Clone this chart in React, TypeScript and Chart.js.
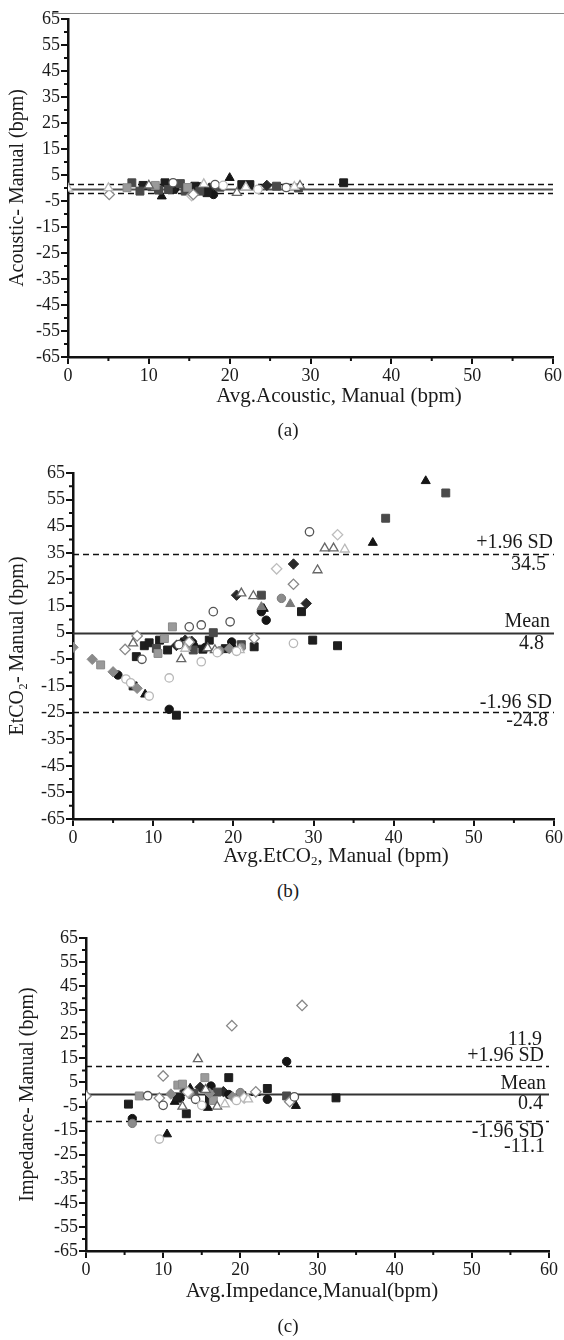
import React, { useEffect, useRef } from 'react';
import { Chart, registerables } from 'chart.js';
Chart.register(...registerables);

type Pt = [number, number];

// ---------- Panel (a): Acoustic - Manual ----------
const aBlackSquare: Pt[] = [[9.3, 1.0], [12.0, 2.0], [15.7, 0.7], [17.2, -1.8], [21.5, 1.3], [22.5, 1.3], [34.1, 2.0], [13.0, -0.5], [16.5, 0.5]];
const aDarkSquare: Pt[] = [[7.9, 2.0], [8.9, -1.2], [10.4, 0.5], [12.4, -0.6], [13.9, 1.7], [14.5, -1.2], [16.3, -1.2], [25.8, 0.7], [11.2, -0.8], [18.8, 0.3], [28.5, 0.0]];
const aGraySquare: Pt[] = [[7.3, 0.1], [10.8, 1.0], [14.8, 0.2]];
const aBlackCircle: Pt[] = [[18.0, -2.5], [13.2, -0.3]];
const aOpenCircle: Pt[] = [[13.0, 2.0], [27.0, 0.2], [18.2, 1.3]];
const aLightCircle: Pt[] = [[19.2, 1.0], [23.5, -0.5]];
const aBlackTriangle: Pt[] = [[11.6, -3.2], [20.0, 3.9], [12.5, 0.3]];
const aOpenTriangle: Pt[] = [[20.9, -1.8], [28.7, 0.9], [10.0, 1.0]];
const aLightTriangle: Pt[] = [[0.0, -0.2], [5.0, 0.0], [16.8, 1.5], [22.0, 0.3], [28.0, 0.5]];
const aBlackDiamond: Pt[] = [[24.6, 1.0], [17.5, 0.0]];
const aOpenDiamond: Pt[] = [[5.1, -2.5], [15.5, -2.5]];
const aLightDiamond: Pt[] = [[15.3, -2.9]];
const aLimitValues = [1.7, -0.2, -2.1]; // upper, mean, lower

// ---------- Panel (b): EtCO2 - Manual ----------
const bBlackSquare: Pt[] = [[7.5, -15], [7.9, -4], [8.9, 0.1], [9.5, 1.2], [10.8, 2.2], [12.9, -26.0], [17.0, 2.2], [22.6, -0.3], [28.5, 12.9], [29.9, 2.2], [33.0, 0.1], [16.2, -1.2], [11.8, -1.5], [19.0, -1.0]];
const bDarkSquare: Pt[] = [[10.4, -0.9], [17.5, 5.0], [23.5, 19.1], [39.0, 48.0], [46.5, 57.5], [15.0, -1.5], [21.0, 0.5]];
const bGraySquare: Pt[] = [[3.45, -7.1], [10.6, -2.8], [11.4, 2.8], [12.4, 7.2], [14.2, 0.2]];
const bBlackCircle: Pt[] = [[5.6, -10.9], [12.0, -23.8], [23.5, 12.9], [24.1, 9.7], [14.0, 0.5], [16.5, -0.5], [19.8, 1.5]];
const bGrayCircle: Pt[] = [[26.0, 17.9], [21.0, -0.5], [18.3, -1.8]];
const bOpenCircle: Pt[] = [[8.6, -5.0], [14.5, 7.2], [16.0, 7.9], [17.5, 12.9], [19.6, 9.1], [29.5, 42.9], [13.2, 0.5]];
const bLightCircle: Pt[] = [[6.6, -12.4], [7.2, -13.8], [9.5, -18.8], [12.0, -12.0], [16.0, -5.9], [27.5, 1.0], [18.0, -2.5], [20.4, -2.0]];
const bBlackTriangle: Pt[] = [[9.0, -18.2], [20.0, -0.3], [37.4, 38.8], [44.0, 62.0], [13.5, 1.2], [15.2, 0.5], [23.8, 14.0]];
const bGrayTriangle: Pt[] = [[27.1, 15.8], [23.5, 14.7]];
const bOpenTriangle: Pt[] = [[7.5, 1.0], [13.5, -4.9], [21.0, 19.8], [22.5, 18.8], [30.5, 28.5], [31.4, 36.7], [32.5, 36.7], [16.8, -0.8], [17.7, -1.5]];
const bLightTriangle: Pt[] = [[33.9, 36.3], [20.8, -1.5], [14.0, -1.0]];
const bBlackDiamond: Pt[] = [[20.4, 19.1], [27.5, 30.8], [29.1, 16.0], [14.8, 1.8], [12.9, 0.2], [14.0, 2.2]];
const bGrayDiamond: Pt[] = [[0.0, -0.5], [2.4, -5.0], [5.0, -9.7], [8.0, -15.9], [19.5, -1.0]];
const bOpenDiamond: Pt[] = [[6.5, -1.3], [8.0, 3.8], [27.5, 23.2], [22.6, 2.9], [14.5, 1.5]];
const bLightDiamond: Pt[] = [[25.4, 29.0], [33.0, 41.8]];
const bLimitValues = [34.5, 4.8, -24.8];
const bLimitTexts = ['+1.96 SD', '34.5', 'Mean', '4.8', '-1.96 SD', '-24.8'];

// ---------- Panel (c): Impedance - Manual ----------
const cBlackSquare: Pt[] = [[5.5, -4.0], [13.0, -8.0], [18.5, 7.0], [23.5, 2.5], [32.4, -1.4], [11.8, -1.0], [16.0, -2.0], [20.2, -0.5]];
const cDarkSquare: Pt[] = [[26.0, -0.6], [14.0, 0.5], [17.0, 1.0]];
const cGraySquare: Pt[] = [[6.9, -0.6], [11.9, 3.9], [15.4, 7.0], [12.5, 4.3], [16.5, -2.5]];
const cBlackCircle: Pt[] = [[6.0, -10.0], [16.2, 3.5], [23.5, -2.0], [26.0, 13.7], [12.2, -1.5], [18.5, 0.0]];
const cGrayCircle: Pt[] = [[6.0, -12.0], [13.5, 0.0], [20.0, 0.8]];
const cOpenCircle: Pt[] = [[8.0, -0.5], [27.0, -1.0], [10.0, -4.5], [14.2, -2.0]];
const cLightCircle: Pt[] = [[9.5, -18.5], [15.0, -4.5], [19.5, -2.5]];
const cBlackTriangle: Pt[] = [[10.5, -16.5], [27.2, -4.7], [13.5, 2.5], [15.8, -5.5], [22.0, 0.7], [11.5, -3.0]];
const cOpenTriangle: Pt[] = [[14.5, 14.7], [12.5, -5.0], [17.0, -5.0], [15.5, 2.0]];
const cLightTriangle: Pt[] = [[18.0, -4.0], [21.0, -2.0]];
const cBlackDiamond: Pt[] = [[14.8, 3.0], [17.8, 1.2], [12.8, 1.5]];
const cGrayDiamond: Pt[] = [[11.0, 0.2], [16.0, 0.5], [19.0, -1.0]];
const cOpenDiamond: Pt[] = [[0.0, -0.6], [10.0, 7.7], [18.9, 28.6], [22.0, 1.1], [28.0, 37.0], [26.4, -3.0], [9.5, -1.5]];
const cLightDiamond: Pt[] = [[13.2, 1.0], [20.5, -1.5]];
const cLimitValues = [11.9, 0.4, -11.1];
const cLimitTexts = ['11.9', '+1.96 SD', 'Mean', '0.4', '-1.96 SD', '-11.1'];

// ---------- Axes ----------
const yMin = -65;
const yMax = 65;
const xMin = 0;
const xMax = 60;
const majorStep = 10;

const titles = {
  aY: 'Acoustic- Manual (bpm)',
  bY: 'EtCO\u2082- Manual (bpm)',
  cY: 'Impedance- Manual (bpm)',
};

// ---------- Marker styles ----------
const STYLE: Record<string, { ps: string; r: number; fill: string; stroke: string; bw: number }> = {
  blackSquare: { ps: 'rect', r: 5.6, fill: '#1e1e1e', stroke: '#1e1e1e', bw: 1 },
  darkSquare: { ps: 'rect', r: 5.6, fill: '#4a4a4a', stroke: '#4a4a4a', bw: 1 },
  graySquare: { ps: 'rect', r: 5.6, fill: '#9a9a9a', stroke: '#8a8a8a', bw: 1 },
  blackCircle: { ps: 'circle', r: 4.2, fill: '#151515', stroke: '#151515', bw: 1 },
  grayCircle: { ps: 'circle', r: 4.2, fill: '#8c8c8c', stroke: '#777', bw: 1 },
  openCircle: { ps: 'circle', r: 4.2, fill: '#ffffff', stroke: '#555', bw: 1.3 },
  lightCircle: { ps: 'circle', r: 4.2, fill: '#ffffff', stroke: '#b8b8b8', bw: 1.3 },
  blackTriangle: { ps: 'triangle', r: 5.2, fill: '#151515', stroke: '#151515', bw: 1 },
  grayTriangle: { ps: 'triangle', r: 5.2, fill: '#7a7a7a', stroke: '#7a7a7a', bw: 1 },
  openTriangle: { ps: 'triangle', r: 5.2, fill: '#ffffff', stroke: '#666', bw: 1.3 },
  lightTriangle: { ps: 'triangle', r: 5.2, fill: '#ffffff', stroke: '#b8b8b8', bw: 1.3 },
  blackDiamond: { ps: 'rectRot', r: 5.2, fill: '#2a2a2a', stroke: '#2a2a2a', bw: 1 },
  grayDiamond: { ps: 'rectRot', r: 5.2, fill: '#8a8a8a', stroke: '#8a8a8a', bw: 1 },
  openDiamond: { ps: 'rectRot', r: 5.2, fill: '#ffffff', stroke: '#888', bw: 1.3 },
  lightDiamond: { ps: 'rectRot', r: 5.2, fill: '#ffffff', stroke: '#bdbdbd', bw: 1.3 },
};

const SERIF = "'Liberation Serif', 'Times New Roman', serif";

function makeDatasets(list: [string, Pt[]][]) {
  return list.map(([key, pts]) => {
    const s = STYLE[key];
    return {
      label: key,
      data: pts.map(([x, y]) => ({ x, y })),
      pointStyle: s.ps,
      pointRadius: s.r,
      pointHoverRadius: s.r,
      backgroundColor: s.fill,
      borderColor: s.stroke,
      borderWidth: s.bw,
      showLine: false,
    };
  });
}

const refPlugin = {
  id: 'refLines',
  beforeDatasetsDraw(chart: any, _args: any, opts: any) {
    const { ctx, chartArea } = chart;
    const y = chart.scales.y;
    ctx.save();
    (opts.lines || []).forEach((ln: any) => {
      const py = Math.round(y.getPixelForValue(ln.value)) + 0.5;
      ctx.beginPath();
      ctx.setLineDash(ln.dash || []);
      ctx.lineWidth = ln.width;
      ctx.strokeStyle = ln.color;
      ctx.moveTo(chartArea.left, py);
      ctx.lineTo(chartArea.right, py);
      ctx.stroke();
    });
    ctx.setLineDash([]);
    ctx.font = opts.font || `20px ${SERIF}`;
    ctx.fillStyle = '#1a1a1a';
    ctx.textAlign = 'right';
    ctx.textBaseline = 'middle';
    (opts.labels || []).forEach((lb: any) => {
      const py = y.getPixelForValue(lb.value) + lb.dy;
      ctx.fillText(lb.text, chartArea.right + lb.dx, py);
    });
    ctx.restore();
  },
  afterDraw(chart: any) {
    const { ctx, chartArea } = chart;
    const x = chart.scales.x;
    const y = chart.scales.y;
    ctx.save();
    ctx.strokeStyle = '#111';
    ctx.lineWidth = 2;
    ctx.beginPath();
    for (let v = xMin + majorStep / 2; v < xMax; v += majorStep) {
      const px = x.getPixelForValue(v);
      ctx.moveTo(px, chartArea.bottom);
      ctx.lineTo(px, chartArea.bottom + 4);
    }
    for (let v = yMin + majorStep / 2; v < yMax; v += majorStep) {
      const py = y.getPixelForValue(v);
      ctx.moveTo(chartArea.left - 4, py);
      ctx.lineTo(chartArea.left, py);
    }
    ctx.stroke();
    ctx.restore();
  },
};

type PanelCfg = {
  height: number;
  padTop: number;
  padRight: number;
  yWidth: number;
  yTitle: string;
  yTitlePad: number;
  datasets: any[];
  lines: any[];
  labels: any[];
};

function Panel({ cfg, top }: { cfg: PanelCfg; top: number }) {
  const ref = useRef<HTMLCanvasElement | null>(null);
  useEffect(() => {
    if (!ref.current) return;
    const chart = new Chart(ref.current, {
      type: 'scatter',
      data: { datasets: cfg.datasets },
      plugins: [refPlugin],
      options: {
        animation: false,
        responsive: false,
        devicePixelRatio: 1,
        events: [],
        layout: { padding: { top: cfg.padTop, right: cfg.padRight, left: 0, bottom: 0 } },
        plugins: {
          legend: { display: false },
          tooltip: { enabled: false },
          refLines: { lines: cfg.lines, labels: cfg.labels, font: `20px ${SERIF}` },
        } as any,
        scales: {
          x: {
            type: 'linear',
            min: xMin,
            max: xMax,
            afterFit: (s: any) => { s.height = 30; },
            ticks: {
              stepSize: majorStep,
              autoSkip: false,
              maxRotation: 0,
              minRotation: 0,
              padding: 1,
              color: '#1a1a1a',
              font: { family: SERIF, size: 18 },
            },
            grid: { drawOnChartArea: false, drawTicks: true, tickLength: 7, color: '#111', lineWidth: 2 },
            border: { display: true, color: '#111', width: 2.5 },
          },
          y: {
            type: 'linear',
            min: yMin,
            max: yMax,
            afterFit: (s: any) => { s.width = cfg.yWidth; },
            ticks: {
              stepSize: majorStep,
              autoSkip: false,
              padding: 1,
              color: '#1a1a1a',
              font: { family: SERIF, size: 18 },
            },
            grid: { drawOnChartArea: false, drawTicks: true, tickLength: 7, color: '#111', lineWidth: 2 },
            border: { display: true, color: '#111', width: 2.5 },
            title: {
              display: true,
              text: cfg.yTitle,
              color: '#1a1a1a',
              font: { family: SERIF, size: 20, lineHeight: 1 },
              padding: { top: cfg.yTitlePad, bottom: 0 },
            },
          },
        },
      } as any,
    });
    return () => chart.destroy();
  }, [cfg]);
  return (
    <canvas
      ref={ref}
      width={564}
      height={cfg.height}
      style={{ position: 'absolute', left: 0, top, width: 564, height: cfg.height, display: 'block' }}
    />
  );
}

const dashed = { dash: [6, 4], width: 1.6, color: '#111' };
const solid = { dash: [], width: 2.2, color: '#333' };

const panelA: PanelCfg = {
  height: 387,
  padTop: 19,
  padRight: 11,
  yWidth: 68,
  yTitle: titles.aY,
  yTitlePad: 8,
  datasets: makeDatasets([
    ['lightTriangle', aLightTriangle], ['openDiamond', aOpenDiamond], ['lightDiamond', aLightDiamond],
    ['lightCircle', aLightCircle], ['openCircle', aOpenCircle], ['openTriangle', aOpenTriangle],
    ['graySquare', aGraySquare], ['darkSquare', aDarkSquare], ['blackSquare', aBlackSquare],
    ['blackCircle', aBlackCircle], ['blackTriangle', aBlackTriangle], ['blackDiamond', aBlackDiamond],
  ]),
  lines: [
    { value: aLimitValues[0], ...dashed },
    { value: aLimitValues[1], ...solid, color: '#555' },
    { value: aLimitValues[2], ...dashed },
  ],
  labels: [],
};

const panelB: PanelCfg = {
  height: 409,
  padTop: 33,
  padRight: 10,
  yWidth: 73,
  yTitle: titles.bY,
  yTitlePad: 8,
  datasets: makeDatasets([
    ['lightCircle', bLightCircle], ['lightTriangle', bLightTriangle], ['lightDiamond', bLightDiamond],
    ['openCircle', bOpenCircle], ['openTriangle', bOpenTriangle], ['openDiamond', bOpenDiamond],
    ['grayDiamond', bGrayDiamond], ['graySquare', bGraySquare], ['grayCircle', bGrayCircle],
    ['grayTriangle', bGrayTriangle], ['darkSquare', bDarkSquare], ['blackSquare', bBlackSquare],
    ['blackCircle', bBlackCircle], ['blackTriangle', bBlackTriangle], ['blackDiamond', bBlackDiamond],
  ]),
  lines: [
    { value: bLimitValues[0], ...dashed },
    { value: bLimitValues[1], ...solid },
    { value: bLimitValues[2], ...dashed },
  ],
  labels: [
    { text: bLimitTexts[0], value: bLimitValues[0], dy: -11, dx: -1 },
    { text: bLimitTexts[1], value: bLimitValues[0], dy: 11, dx: -8 },
    { text: bLimitTexts[2], value: bLimitValues[1], dy: -11, dx: -4 },
    { text: bLimitTexts[3], value: bLimitValues[1], dy: 11, dx: -10 },
    { text: bLimitTexts[4], value: bLimitValues[2], dy: -9, dx: -2 },
    { text: bLimitTexts[5], value: bLimitValues[2], dy: 9, dx: -6 },
  ],
};

const panelC: PanelCfg = {
  height: 376,
  padTop: 33,
  padRight: 15,
  yWidth: 86,
  yTitle: titles.cY,
  yTitlePad: 18,
  datasets: makeDatasets([
    ['lightCircle', cLightCircle], ['lightTriangle', cLightTriangle], ['lightDiamond', cLightDiamond],
    ['openCircle', cOpenCircle], ['openTriangle', cOpenTriangle], ['openDiamond', cOpenDiamond],
    ['grayDiamond', cGrayDiamond], ['graySquare', cGraySquare], ['grayCircle', cGrayCircle],
    ['darkSquare', cDarkSquare], ['blackSquare', cBlackSquare], ['blackCircle', cBlackCircle],
    ['blackTriangle', cBlackTriangle], ['blackDiamond', cBlackDiamond],
  ]),
  lines: [
    { value: cLimitValues[0], ...dashed },
    { value: cLimitValues[1], ...solid },
    { value: cLimitValues[2], ...dashed },
  ],
  labels: [
    { text: cLimitTexts[0], value: cLimitValues[0], dy: -26, dx: -7 },
    { text: cLimitTexts[1], value: cLimitValues[0], dy: -10, dx: -5 },
    { text: cLimitTexts[2], value: cLimitValues[1], dy: -10, dx: -3 },
    { text: cLimitTexts[3], value: cLimitValues[1], dy: 10, dx: -6 },
    { text: cLimitTexts[4], value: cLimitValues[2], dy: 11, dx: -5 },
    { text: cLimitTexts[5], value: cLimitValues[2], dy: 26, dx: -4 },
  ],
};

const textStyle = (top: number, cx: number, size: number): React.CSSProperties => ({
  position: 'absolute',
  top: top - size * 0.6,
  left: cx - 200,
  width: 400,
  textAlign: 'center',
  fontFamily: SERIF,
  fontSize: size,
  lineHeight: `${size * 1.2}px`,
  color: '#1a1a1a',
  whiteSpace: 'nowrap',
});

export default function App() {
  return (
    <div style={{ position: 'relative', width: 564, height: 1340, background: '#fff', overflow: 'hidden' }}>
      <style>{'body{margin:0;background:#fff}'}</style>
      <div style={{ position: 'absolute', top: 13, left: 52, width: 512, height: 1, background: '#8a8a8a' }} />
      <Panel cfg={panelA} top={0} />
      <div style={textStyle(396, 339, 21)}>Avg.Acoustic, Manual (bpm)</div>
      <div style={textStyle(430, 288, 19)}>(a)</div>
      <Panel cfg={panelB} top={440} />
      <div style={textStyle(856, 336, 21)}>
        Avg.EtCO<sub style={{ fontSize: '0.62em', verticalAlign: '-0.2em', lineHeight: 0 }}>2</sub>, Manual (bpm)
      </div>
      <div style={textStyle(891, 288, 19)}>(b)</div>
      <Panel cfg={panelC} top={905} />
      <div style={textStyle(1291, 312, 21)}>Avg.Impedance,Manual(bpm)</div>
      <div style={textStyle(1326, 288, 19)}>(c)</div>
    </div>
  );
}
